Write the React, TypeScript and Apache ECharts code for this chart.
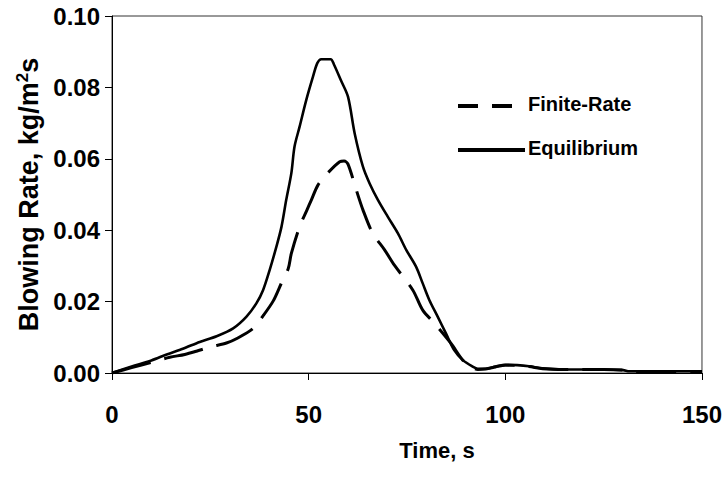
import React, { useEffect, useRef } from "react";
import * as echarts from "echarts";

// Blowing rate history, time (s) vs rate (kg/m²s)
const timeTicks = [0, 50, 100, 150];
const rateTicks = [0, 0.02, 0.04, 0.06, 0.08, 0.1];

const finiteRate: [number, number][] = [
  [0, 0], [5, 0.0015], [10, 0.003], [14.7, 0.0044], [18.5, 0.0052], [22, 0.0063],
  [25.3, 0.0074], [29.1, 0.0084], [32, 0.0098], [35.9, 0.0125], [38.4, 0.016],
  [41, 0.0202], [43, 0.025], [44.8, 0.0292], [45.6, 0.0335], [47.7, 0.041],
  [49.5, 0.0455], [50.7, 0.0485], [52.4, 0.0527], [55, 0.0562], [57.9, 0.0592],
  [59, 0.0594], [60, 0.0585], [62.1, 0.0513], [63.8, 0.0457], [66.3, 0.0391],
  [69.3, 0.0345], [71.8, 0.0302], [76.5, 0.0232], [79, 0.0176], [82, 0.0139],
  [86.2, 0.0083], [89.2, 0.0036], [91.7, 0.0015], [93, 0.001], [95, 0.0011],
  [97.5, 0.0017], [100, 0.0022], [103, 0.0021], [106, 0.0018], [109.5, 0.0012],
  [115, 0.001], [125, 0.001], [130, 0.0008], [131.5, 0.0004], [140, 0.0004],
  [150, 0.0004],
];

const equilibrium: [number, number][] = [
  [0, 0], [5, 0.0018], [10, 0.0035], [13.9, 0.0052], [18, 0.0068], [22.3, 0.0087],
  [26.6, 0.0103], [30.8, 0.0125], [34.2, 0.0158], [36.7, 0.0195], [38.4, 0.0232],
  [40.1, 0.0289], [41.8, 0.0354], [43.1, 0.041], [44.3, 0.0485], [45.6, 0.056],
  [46.4, 0.0634], [47.7, 0.069], [49.4, 0.0765], [51.1, 0.083], [52.2, 0.0868],
  [53.2, 0.0879], [55.6, 0.0879], [56.4, 0.0865], [58.2, 0.082], [60, 0.0774],
  [61.7, 0.0671], [63.8, 0.0578], [65.5, 0.0531], [67.6, 0.0485], [70.1, 0.0438],
  [72.7, 0.0391], [74.8, 0.0345], [77.3, 0.0298], [79, 0.0251], [80.7, 0.0204],
  [82.8, 0.0158], [84.9, 0.0111], [87, 0.0064], [89.2, 0.0036], [91.7, 0.0018],
  [93, 0.0012], [95, 0.0012], [97.5, 0.0018], [100, 0.0023], [103, 0.0022],
  [106, 0.0019], [109.5, 0.0013], [115, 0.001], [125, 0.001], [130, 0.0008],
  [131.5, 0.0005], [140, 0.0005], [150, 0.0005],
];

const seriesNames = ["Finite-Rate", "Equilibrium"];

const font = "'Liberation Sans', Arial, sans-serif";

export default function App() {
  const ref = useRef<HTMLDivElement>(null);

  useEffect(() => {
    document.body.style.margin = "0";
    if (!ref.current) return;
    const chart = echarts.init(ref.current, undefined, { renderer: "svg" });

    const legendText = (name: string, y: number) => ({
      type: "text",
      left: 528,
      top: y - 12,
      style: {
        text: name,
        fill: "#000",
        font: `bold 20px ${font}`,
      },
    });

    chart.setOption({
      animation: false,
      backgroundColor: "#ffffff",
      grid: {
        left: 112,
        right: 23,
        top: 16,
        bottom: 110,
        show: true,
        borderColor: "#333",
        borderWidth: 1,
      },
      graphic: [
        {
          type: "line",
          shape: { x1: 458, y1: 106, x2: 522, y2: 106 },
          style: { stroke: "#000", lineWidth: 4, lineDash: [20, 14] },
        },
        legendText(seriesNames[0], 106),
        {
          type: "line",
          shape: { x1: 458, y1: 150, x2: 525, y2: 150 },
          style: { stroke: "#000", lineWidth: 4 },
        },
        legendText(seriesNames[1], 150),
      ],
      xAxis: {
        type: "value",
        min: timeTicks[0],
        max: timeTicks[timeTicks.length - 1],
        interval: 50,
        name: "Time, s",
        nameLocation: "middle",
        nameGap: 66,
        nameTextStyle: {
          fontFamily: font,
          fontWeight: "bold",
          fontSize: 22,
          color: "#000",
          padding: [0, 0, 0, 60],
        },
        axisLine: { lineStyle: { color: "#000", width: 1 } },
        axisTick: { show: true, inside: false, length: 7, lineStyle: { color: "#000" } },
        axisLabel: {
          margin: 29,
          fontFamily: font,
          fontWeight: "bold",
          fontSize: 24,
          color: "#000",
        },
        splitLine: { show: false },
      },
      yAxis: {
        type: "value",
        min: rateTicks[0],
        max: rateTicks[rateTicks.length - 1],
        interval: 0.02,
        name: "Blowing Rate, kg/m{sup|2}s",
        nameLocation: "middle",
        nameGap: 67,
        nameTextStyle: {
          fontFamily: font,
          fontWeight: "bold",
          fontSize: 27,
          color: "#000",
          rich: {
            sup: {
              fontFamily: font,
              fontWeight: "bold",
              fontSize: 17,
              color: "#000",
              verticalAlign: "top",
              padding: [0, 0, 12, 0],
            },
          },
        },
        axisLine: { show: true, lineStyle: { color: "#000", width: 1 } },
        axisTick: { show: true, inside: false, length: 7, lineStyle: { color: "#000" } },
        axisLabel: {
          margin: 12,
          fontFamily: font,
          fontWeight: "bold",
          fontSize: 24,
          color: "#000",
          formatter: (v: number) => v.toFixed(2),
        },
        splitLine: { show: false },
      },
      series: [
        {
          name: seriesNames[0],
          type: "line",
          data: finiteRate,
          showSymbol: false,
          symbol: "none",
          smooth: 0.3,
          lineStyle: { color: "#000", width: 3, type: [40, 14] },
          z: 3,
        },
        {
          name: seriesNames[1],
          type: "line",
          data: equilibrium,
          showSymbol: false,
          symbol: "none",
          smooth: 0.3,
          lineStyle: { color: "#000", width: 2.6, type: "solid" },
          z: 2,
        },
      ],
    });
    return () => chart.dispose();
  }, []);

  return <div ref={ref} style={{ width: 725, height: 483 }} />;
}
